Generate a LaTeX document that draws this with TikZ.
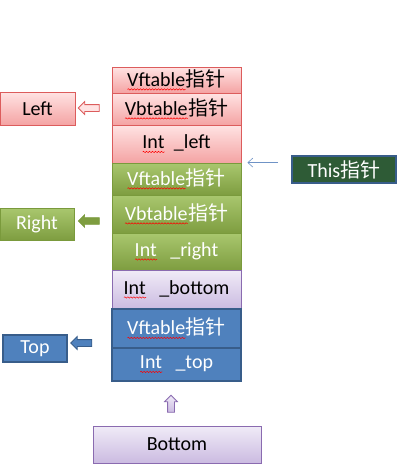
\documentclass[tikz,border=0pt]{standalone}
\usepackage{fontspec}
\setmainfont{Carlito}
\newfontfamily\cjk{Noto Sans CJK SC}
\usetikzlibrary{shapes.arrows,arrows.meta,decorations.pathmorphing}

\definecolor{pinkT}{HTML}{FFE3E3}
\definecolor{pinkB}{HTML}{F4A3A3}
\definecolor{pinkD}{HTML}{DC5C5C}
\definecolor{greenT}{HTML}{A9C76E}
\definecolor{greenB}{HTML}{7E9D40}
\definecolor{greenD}{HTML}{7A9A3C}
\definecolor{lilacT}{HTML}{F0EBF7}
\definecolor{lilacB}{HTML}{CBBBE1}
\definecolor{lilacD}{HTML}{8A6BB0}
\definecolor{blueF}{HTML}{4F81BD}
\definecolor{blueD}{HTML}{385D8A}
\definecolor{blueL}{HTML}{6F93C6}
\definecolor{thisG}{HTML}{2E5B36}

\newcommand{\zhptr}{{\cjk 指针}}
\newsavebox{\spellbox}
\newcommand{\spell}[2][black]{\sbox{\spellbox}{#2}\rlap{\textcolor{#1}{#2}}%
  \tikz[baseline=0pt]\draw[red, line width=0.5pt, decorate,
    decoration={snake, amplitude=0.7pt, segment length=3pt}]
    (0pt,-3pt) -- (\wd\spellbox,-3pt);}

\begin{document}
\begin{tikzpicture}[x=1pt, y=-1pt,
  every node/.style={font=\fontsize{20}{24}\selectfont},
  cell/.style={rectangle, minimum width=129pt, inner sep=0pt, line width=0.8pt},
  redcell/.style={cell, top color=pinkT, bottom color=pinkB, draw=pinkD},
  greencell/.style={cell, top color=greenT, bottom color=greenB, draw=greenD, text=white},
  lilaccell/.style={cell, top color=lilacT, bottom color=lilacB, draw=lilacD},
  bluecell/.style={cell, fill=blueF, draw=blueD, line width=1.6pt, text=white},
  tag/.style={rectangle, inner sep=0pt},
  fat/.style={single arrow, inner sep=3pt, minimum height=21pt,
    single arrow head extend=3pt, shape border rotate=180},
  ptr/.style={-{Straight Barb[length=5pt,width=9pt]}, blueL, line width=0.6pt},
]
\useasboundingbox (0,0) rectangle (401,469);

% Object layout, top to bottom
\node[redcell, minimum height=26pt] (vfleft) at (176.5,80) {\spell{Vftable}\zhptr};
\node[redcell, minimum height=32pt] (vbleft) at (176.5,109) {\spell{Vbtable}\zhptr};
\node[redcell, minimum height=38pt] (ileft) at (176.5,144) {\spell{Int}\hspace{9pt}\_left};
\node[greencell, minimum height=32pt] (vfright) at (176.5,179) {\spell[white]{Vftable}\zhptr};
\node[greencell, minimum height=38pt] (vbright) at (176.5,214) {\spell[white]{Vbtable}\zhptr};
\node[greencell, minimum height=37pt] (iright) at (176.5,251.5) {\spell[white]{Int}\hspace{13pt}\_right};
\node[lilaccell, minimum height=39pt] (ibottom) at (176.5,289.5) {\spell{Int}\hspace{13pt}\_bottom};
\node[bluecell, minimum height=39pt] (vftop) at (176.5,328.5) {\spell[white]{Vftable}\zhptr};
\node[bluecell, minimum height=33pt] (itop) at (176.5,364.5) {\spell[white]{Int}\hspace{13pt}\_top};

% Class labels
\node[tag, minimum width=75pt, minimum height=33pt, top color=pinkT, bottom color=pinkB,
  draw=pinkD, line width=0.8pt] (leftbox) at (37.5,108.5) {Left};
\node[tag, minimum width=74pt, minimum height=32pt, top color=greenT, bottom color=greenB,
  draw=greenD, line width=0.6pt, text=white] (rightbox) at (37,224) {Right};
\node[tag, minimum width=64pt, minimum height=27pt, fill=blueF, draw=blueD,
  line width=1.6pt, text=white] (topbox) at (35,348.5) {Top};
\node[tag, minimum width=168pt, minimum height=37pt, top color=lilacT, bottom color=lilacB,
  draw=lilacD, line width=0.8pt] (bottombox) at (177,444.5) {Bottom};
\node[tag, minimum width=104pt, minimum height=27pt, fill=thisG, draw=blueD,
  line width=1.6pt, text=white] (thisbox) at (344,169.5) {This\zhptr};

% Block arrows
\node[fat, fill=pinkT, draw=pinkD, line width=0.8pt] (leftarr) at (90.5,108) {};
\node[fat, fill=greenB, draw=greenD, line width=0.6pt] (rightarr) at (90.5,221) {};
\node[fat, fill=blueF, draw=blueD, line width=0.8pt] (toparr) at (83,343) {};
\node[fat, shape border rotate=90, minimum height=17pt, top color=lilacT, bottom color=lilacB,
  draw=lilacD, line width=0.8pt] (bottomarr) at (171,405.5) {};

% This pointer
\coordinate (thisptr) at ([xshift=6pt]vfright.north east);
\draw[ptr, shorten <=13pt] (thisbox.west |- thisptr) -- (thisptr);
\end{tikzpicture}
\end{document}
